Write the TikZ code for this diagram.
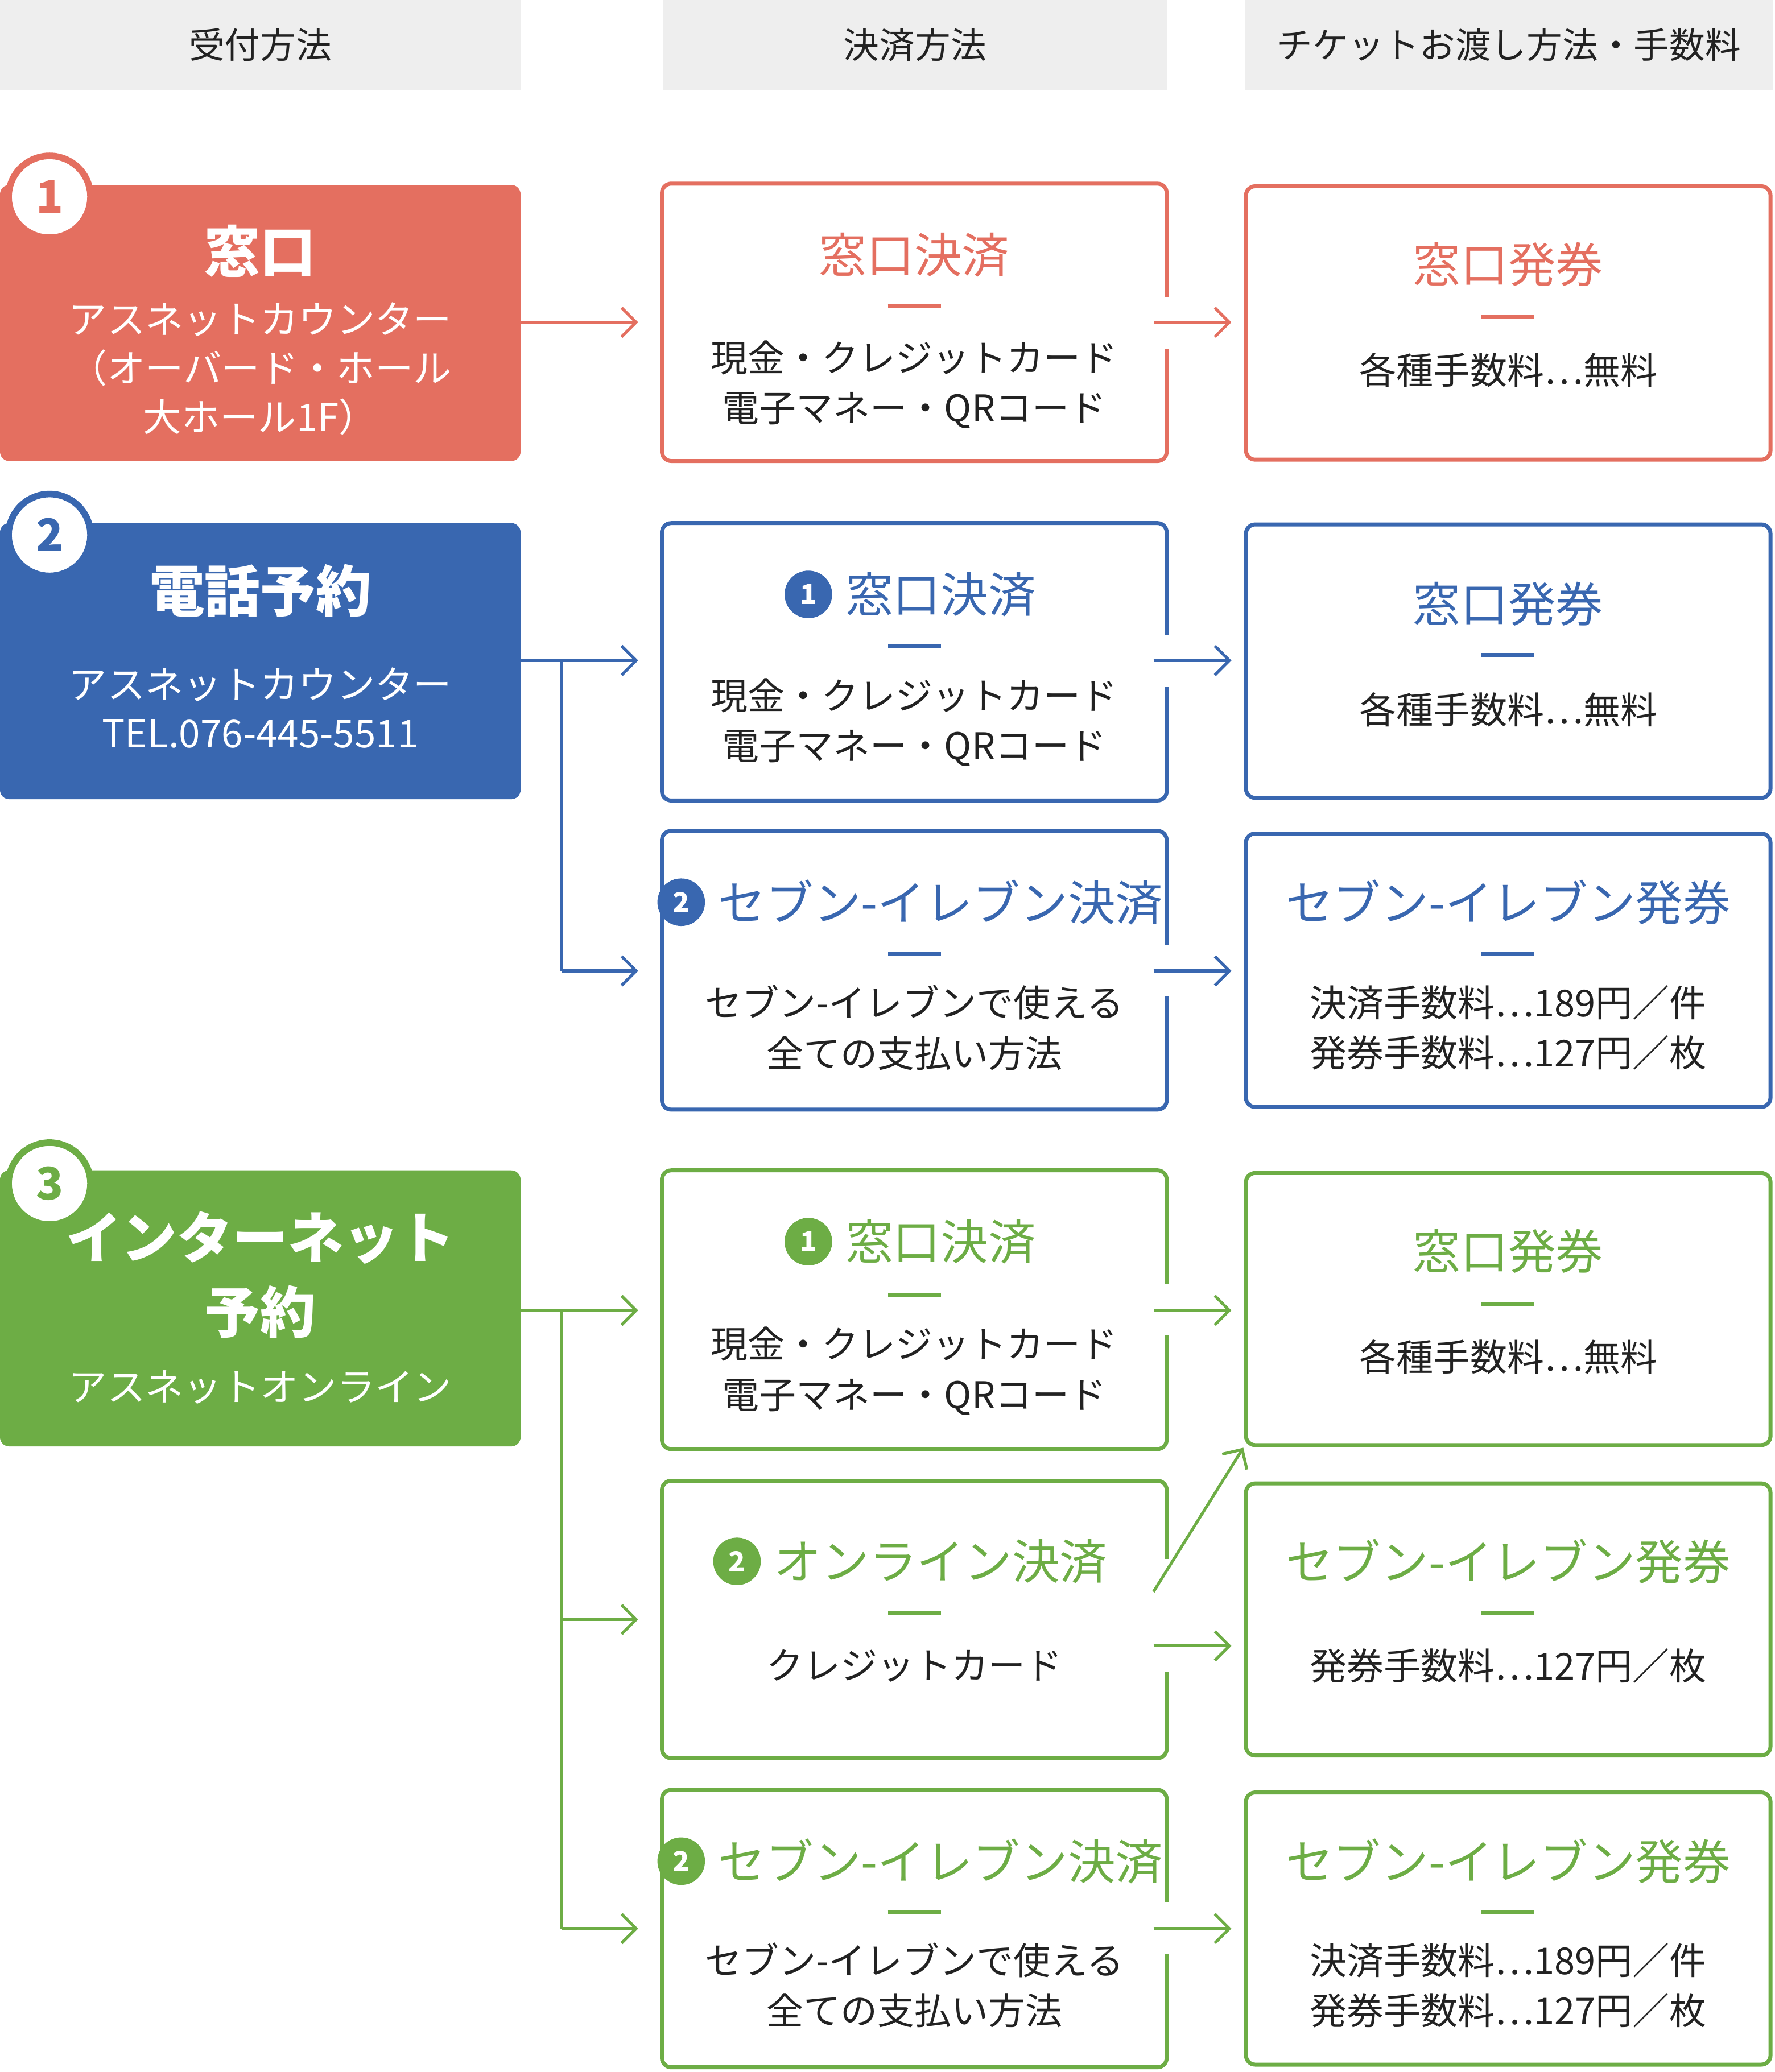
\documentclass[tikz,border=0pt]{standalone}
\usepackage{fontspec}
\setmainfont{Noto Sans CJK JP}
\usetikzlibrary{arrows.meta}
\definecolor{cr}{HTML}{E46F60}
\definecolor{cb}{HTML}{3967B0}
\definecolor{cg}{HTML}{6DAD45}
\definecolor{hg}{HTML}{EEEEEE}
\definecolor{tx}{HTML}{222222}
\tikzset{
 hdr/.style={fill=hg,draw=none,minimum height=68pt,inner sep=0pt,text=tx,font=\fontsize{27}{30}\selectfont},
 lbox/.style={fill=#1,draw=none,rounded corners=7pt,minimum width=394pt,minimum height=209pt,inner sep=0},
 obox/.style={draw=#1,line width=3pt,fill=white,rounded corners=7pt,inner sep=0},
 ttl/.style={text=#1,font=\fontsize{36}{40}\selectfont,inner sep=0},
 body/.style={text=tx,font=\fontsize{28}{38}\selectfont,align=center,inner sep=0},
 ltl/.style={text=white,font=\bfseries\fontsize{42}{56}\selectfont,align=center,inner sep=0},
 lsub/.style={text=white,font=\fontsize{29}{37}\selectfont,align=center,inner sep=0},
 bar/.style={draw=#1,line width=3pt},
 arr/.style={draw=#1,line width=2.2pt,-{Straight Barb[length=11pt,width=22pt,line width=2.2pt]}},
 ln/.style={draw=#1,line width=2.2pt},
 gap/.style={draw=white,line width=6pt},
 bigbadge/.style={circle,fill=white,draw=#1,line width=5pt,minimum size=62pt,inner sep=0,text=#1,font=\bfseries\fontsize{34}{34}\selectfont},
 smbadge/.style={circle,fill=#1,minimum size=36pt,inner sep=0,text=white,font=\bfseries\fontsize{21}{21}\selectfont},
}
\begin{document}
\begin{tikzpicture}[x=1pt,y=-1pt]
\useasboundingbox (0,0) rectangle (1343,1568.6);
% headers
\node[hdr,minimum width=394pt] (h1) at (197,34) {受付方法};
\node[hdr,minimum width=381pt] (h2) at (692.5,34) {決済方法};
\node[hdr,minimum width=400pt] (h3) at (1142,34) {チケットお渡し方法・手数料};

% ===== row 1 =====
\node[lbox=cr] (L1) at (197,244.5) {};
\node[ltl] (L1t) at (197,190) {窓口};
\node[lsub] (L1s) at (197,279) {アスネットカウンター\\（オーバード・ホール\\大ホール1F）};
\node[bigbadge=cr] (B1) at (37.5,149) {1};
\node[obox=cr,minimum width=382pt,minimum height=210pt] (M1) at (692,244) {};
\node[obox=cr,minimum width=397pt,minimum height=207pt] (R1) at (1141.5,244.5) {};
\draw[gap] (883,225) -- (883,264);
\node[ttl=cr] (M1t) at (692,193) {窓口決済};
\draw[bar=cr] (672,232) -- (712,232);
\node[body] (M1b) at (692,291) {現金・クレジットカード\\電子マネー・QRコード};
\node[ttl=cr] (R1t) at (1141.5,200) {窓口発券};
\draw[bar=cr] (1121,240) -- (1161,240);
\node[body] (R1b) at (1141.5,280) {各種手数料…無料};
\coordinate (a1s) at (394,244); \coordinate (a1e) at (483,244);
\draw[arr=cr] (a1s) -- (a1e);
\coordinate (a2s) at (873,244); \coordinate (a2e) at (932,244);
\draw[arr=cr] (a2s) -- (a2e);

% ===== row 2 =====
\node[lbox=cb] (L2) at (197,500.5) {};
\node[ltl] (L2t) at (197,447) {電話予約};
\node[lsub] (L2s) at (197,536) {アスネットカウンター\\TEL.076-445-5511};
\node[bigbadge=cb] (B2) at (37.5,405) {2};
\node[obox=cb,minimum width=382pt,minimum height=210pt] (M2) at (692,501) {};
\node[obox=cb,minimum width=397pt,minimum height=207pt] (R2) at (1141.5,500.5) {};
\node[obox=cb,minimum width=382pt,minimum height=211pt] (M3) at (692,734.5) {};
\node[obox=cb,minimum width=397pt,minimum height=207pt] (R3) at (1141.5,734.5) {};
\draw[gap] (883,481) -- (883,520);
\draw[gap] (883,715) -- (883,754);
\node[ttl=cb] (M2t) at (712,450) {窓口決済};
\node[smbadge=cb] (M2n) at ([xshift=-28pt]M2t.west) {1};
\draw[bar=cb] (672,489) -- (712,489);
\node[body] (M2b) at (692,547) {現金・クレジットカード\\電子マネー・QRコード};
\node[ttl=cb] (R2t) at (1141.5,457) {窓口発券};
\draw[bar=cb] (1121,496) -- (1161,496);
\node[body] (R2b) at (1141.5,537) {各種手数料…無料};
\node[ttl=cb] (M3t) at (712,683) {セブン-イレブン決済};
\node[smbadge=cb] (M3n) at ([xshift=-28pt]M3t.west) {2};
\draw[bar=cb] (672,722) -- (712,722);
\node[body] (M3b) at (692,778) {セブン-イレブンで使える\\全ての支払い方法};
\node[ttl=cb] (R3t) at (1141.5,683) {セブン-イレブン発券};
\draw[bar=cb] (1121,722) -- (1161,722);
\node[body] (R3b) at (1141.5,778) {決済手数料…189円／件\\発券手数料…127円／枚};
\coordinate (b0) at (394,500); \coordinate (bj) at (425,500); \coordinate (bk) at (425,735);
\coordinate (b1e) at (483,500); \coordinate (b2e) at (483,735);
\draw[ln=cb] (b0) -- (bj) -- (bk);
\draw[arr=cb] (bj) -- (b1e);
\draw[arr=cb] (bk) -- (b2e);
\coordinate (b3s) at (873,500); \coordinate (b3e) at (932,500);
\draw[arr=cb] (b3s) -- (b3e);
\coordinate (b4s) at (873,735); \coordinate (b4e) at (932,735);
\draw[arr=cb] (b4s) -- (b4e);

% ===== row 3 =====
\node[lbox=cg] (L3) at (197,990.5) {};
\node[ltl] (L3t) at (197,965) {インターネット\\予約};
\node[lsub] (L3s) at (197,1050) {アスネットオンライン};
\node[bigbadge=cg] (B3) at (37.5,896) {3};
\node[obox=cg,minimum width=382pt,minimum height=211pt] (M4) at (692,991.5) {};
\node[obox=cg,minimum width=397pt,minimum height=206pt] (R4) at (1141.5,991) {};
\node[obox=cg,minimum width=382pt,minimum height=210pt] (M5) at (692,1226) {};
\node[obox=cg,minimum width=397pt,minimum height=206pt] (R5) at (1141.5,1226) {};
\node[obox=cg,minimum width=382pt,minimum height=210pt] (M6) at (692,1460) {};
\node[obox=cg,minimum width=397pt,minimum height=206pt] (R6) at (1141.5,1460) {};
\draw[gap] (883,972) -- (883,1011);
\draw[gap] (883,1180) -- (883,1266);
\draw[gap] (883,1440) -- (883,1479);
\node[ttl=cg] (M4t) at (712,940) {窓口決済};
\node[smbadge=cg] (M4n) at ([xshift=-28pt]M4t.west) {1};
\draw[bar=cg] (672,980) -- (712,980);
\node[body] (M4b) at (692,1038) {現金・クレジットカード\\電子マネー・QRコード};
\node[ttl=cg] (R4t) at (1141.5,947) {窓口発券};
\draw[bar=cg] (1121,987) -- (1161,987);
\node[body] (R4b) at (1141.5,1027) {各種手数料…無料};
\node[ttl=cg] (M5t) at (712,1182) {オンライン決済};
\node[smbadge=cg] (M5n) at ([xshift=-28pt]M5t.west) {2};
\draw[bar=cg] (672,1221) -- (712,1221);
\node[body] (M5b) at (692,1261) {クレジットカード};
\node[ttl=cg] (R5t) at (1141.5,1182) {セブン-イレブン発券};
\draw[bar=cg] (1121,1221) -- (1161,1221);
\node[body] (R5b) at (1141.5,1261) {発券手数料…127円／枚};
\node[ttl=cg] (M6t) at (712,1409) {セブン-イレブン決済};
\node[smbadge=cg] (M6n) at ([xshift=-28pt]M6t.west) {2};
\draw[bar=cg] (672,1448) -- (712,1448);
\node[body] (M6b) at (692,1503) {セブン-イレブンで使える\\全ての支払い方法};
\node[ttl=cg] (R6t) at (1141.5,1409) {セブン-イレブン発券};
\draw[bar=cg] (1121,1448) -- (1161,1448);
\node[body] (R6b) at (1141.5,1503) {決済手数料…189円／件\\発券手数料…127円／枚};
\coordinate (g0) at (394,992); \coordinate (gj) at (425,992);
\coordinate (gk) at (425,1226); \coordinate (gl) at (425,1460);
\coordinate (g1e) at (483,992); \coordinate (g2e) at (483,1226); \coordinate (g3e) at (483,1460);
\draw[ln=cg] (g0) -- (gj) -- (gl);
\draw[arr=cg] (gj) -- (g1e);
\draw[arr=cg] (gk) -- (g2e);
\draw[arr=cg] (gl) -- (g3e);
\coordinate (g4s) at (873,992); \coordinate (g4e) at (932,992);
\draw[arr=cg] (g4s) -- (g4e);
\coordinate (g5s) at (873,1246); \coordinate (g5e) at (932,1246);
\draw[arr=cg] (g5s) -- (g5e);
\coordinate (g6s) at (873,1205); \coordinate (g6e) at (941,1096);
\draw[arr=cg] (g6s) -- (g6e);
\coordinate (g7s) at (873,1460); \coordinate (g7e) at (932,1460);
\draw[arr=cg] (g7s) -- (g7e);
\end{tikzpicture}
\end{document}
